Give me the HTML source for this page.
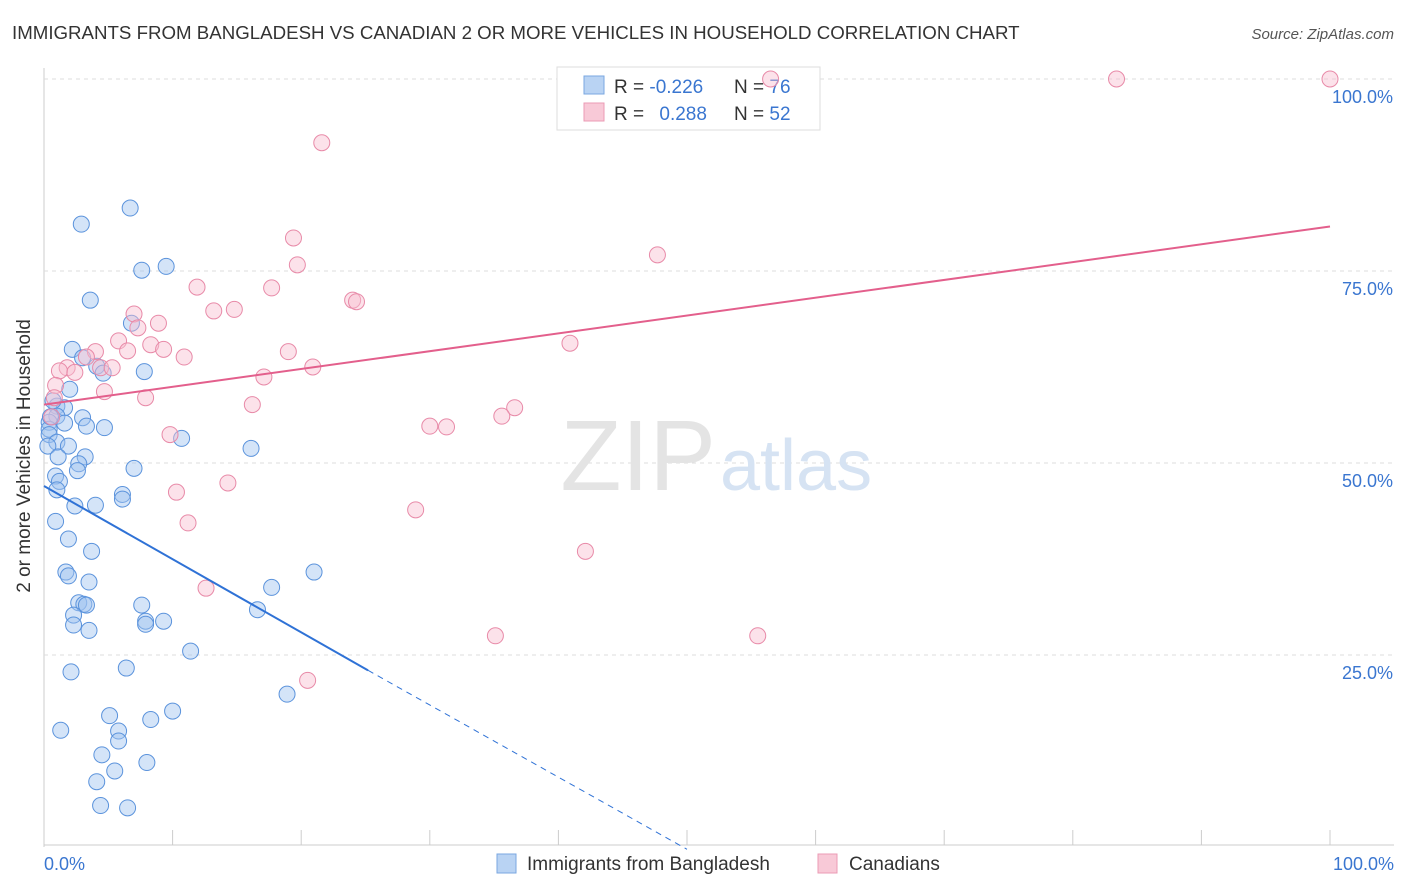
<!DOCTYPE html>
<html><head><meta charset="utf-8">
<style>
body{margin:0;background:#fff;font-family:"Liberation Sans",sans-serif;}
#wrap{position:relative;width:1406px;height:892px;overflow:hidden;}
svg text{font-family:"Liberation Sans",sans-serif;}
</style></head>
<body>
<div id="wrap">
<svg id="chart" width="1406" height="892">
<text x="12" y="39" font-size="18.7" fill="#333">IMMIGRANTS FROM BANGLADESH VS CANADIAN 2 OR MORE VEHICLES IN HOUSEHOLD CORRELATION CHART</text>
<text x="1394" y="39" font-size="15" fill="#555" text-anchor="end" font-style="italic">Source: ZipAtlas.com</text>
<g id="grid"></g>
<text x="716" y="490" font-size="100" fill="#e4e4e4" text-anchor="end" font-family="Liberation Serif">ZIP</text>
<text x="720" y="490" font-size="72" fill="#d6e3f3">atlas</text>
<text x="30" y="456" font-size="19" fill="#333" text-anchor="middle" transform="rotate(-90 30 456)">2 or more Vehicles in Household</text>
<g>
<rect x="557" y="67" width="263" height="63" fill="#fff" stroke="#ddd"/>
<rect x="584" y="76" width="20" height="18" fill="#b9d3f3" stroke="#7aa7e0"/>
<rect x="584" y="103" width="20" height="18" fill="#f8c9d7" stroke="#eb9bb4"/>
<text x="614" y="93" font-size="19" fill="#333">R = <tspan fill="#3a76d0">-0.226</tspan></text>
<text x="734" y="93" font-size="19" fill="#333">N = <tspan fill="#3a76d0">76</tspan></text>
<text x="614" y="120" font-size="19" fill="#333">R = <tspan fill="#3a76d0" dx="10">0.288</tspan></text>
<text x="734" y="120" font-size="19" fill="#333">N = <tspan fill="#3a76d0">52</tspan></text>
</g>
<g id="points"></g>
<g id="lines"></g>
<text x="44" y="870" font-size="18" fill="#3a76d0">0.0%</text>
<text x="1394" y="870" font-size="18" fill="#3a76d0" text-anchor="end">100.0%</text>
<g>
<rect x="497" y="854" width="19" height="19" fill="#b9d3f3" stroke="#7aa7e0"/>
<text x="527" y="870" font-size="19" fill="#333">Immigrants from Bangladesh</text>
<rect x="818" y="854" width="19" height="19" fill="#f8c9d7" stroke="#eb9bb4"/>
<text x="849" y="870" font-size="19" fill="#333">Canadians</text>
</g>
</svg>
</div>
<script>
const yTickValues=[25,50,75,100];
const yTickLabels=["25.0%","50.0%","75.0%","100.0%"];
const blueX=[6.7,2.9,7.6,9.5,3.6,6.8,2.2,3.0,4.1,4.6,7.8,2.0,1.0,1.6,1.0,3.0,1.6,0.4,0.4,3.3,4.7,0.4,1.0,1.9,0.3,1.1,3.2,2.7,2.6,7.0,0.9,1.2,1.0,6.1,6.1,4.0,2.4,0.9,1.9,3.7,10.7,16.1,1.7,1.9,3.5,21.0,17.7,2.7,3.1,3.3,2.3,7.6,16.6,7.9,7.9,9.3,2.3,3.5,11.4,2.1,6.4,18.9,10.0,5.1,8.3,1.3,5.8,5.8,4.5,8.0,5.5,4.1,4.4,6.5,0.7,0.5];
const blueY=[83.2,81.1,75.1,75.6,71.2,68.2,64.8,63.7,62.6,61.7,61.9,59.6,57.4,57.2,56.1,55.9,55.2,55.3,54.4,54.8,54.6,53.7,52.7,52.2,52.2,50.8,50.8,49.9,49.0,49.3,48.3,47.6,46.5,45.9,45.3,44.5,44.4,42.4,40.1,38.5,53.2,51.9,35.8,35.3,34.5,35.8,33.8,31.8,31.6,31.5,30.2,31.5,30.9,29.4,29.0,29.4,28.9,28.2,25.5,22.8,23.3,19.9,17.7,17.1,16.6,15.2,15.1,13.8,12.0,11.0,9.9,8.5,5.4,5.1,58.1,56.0];
const pinkX=[56.5,83.4,100,21.6,19.4,47.7,19.7,11.9,17.7,24.0,24.3,13.2,14.8,7.0,8.9,7.3,40.9,5.8,8.3,9.3,6.5,4.0,10.9,19.0,3.3,1.8,1.2,4.4,5.3,20.9,17.1,2.4,4.7,7.9,0.9,0.8,16.2,36.6,35.6,30.0,31.3,9.8,14.3,10.3,11.2,28.9,42.1,12.6,35.1,55.5,20.5,0.6];
const pinkY=[100,100,100,91.7,79.3,77.1,75.8,72.9,72.8,71.2,71.0,69.8,70.0,69.4,68.2,67.6,65.6,65.9,65.4,64.8,64.6,64.5,63.8,64.5,63.8,62.4,62.0,62.4,62.4,62.5,61.2,61.8,59.3,58.5,60.1,58.5,57.6,57.2,56.1,54.8,54.7,53.7,47.4,46.2,42.2,43.9,38.5,33.7,27.5,27.5,21.7,56.0];
const blueTrend=[[0,47.0],[25.2,23.0],[50,-0.3]];
const pinkTrend=[[0,57.6],[100,80.8]];
const X0=44,X1=1330,Y0=847,Y100=79;
const xs=v=>X0+(X1-X0)*v/100;
const ys=v=>Y0-(Y0-Y100)*v/100;
const NS="http://www.w3.org/2000/svg";
function mk(tag,attrs,parent){const e=document.createElementNS(NS,tag);for(const k in attrs)e.setAttribute(k,attrs[k]);parent.appendChild(e);return e;}
const grid=document.getElementById('grid');
const ax=mk('line',{x1:44,y1:68,x2:44,y2:847,stroke:'#ccc'},grid);


const bx=mk('line',{x1:44,y1:845,x2:1394,y2:845,stroke:'#ccc'},grid);


for(let i=0;i<=10;i++){const xt=mk('line',{x1:44+i*128.6,y1:830,x2:44+i*128.6,y2:845,stroke:'#ccc'},grid);

}
yTickValues.forEach((v,i)=>{const g=mk('line',{x1:44,y1:ys(v),x2:1394,y2:ys(v),stroke:'#ddd','stroke-dasharray':'4,4'},grid);


const t=mk('text',{x:1393,y:ys(v)+24,'font-size':18,fill:'#3a76d0','text-anchor':'end'},grid);t.textContent=yTickLabels[i];

});
const pts=document.getElementById('points');
blueX.forEach((x,i)=>{const c=mk('circle',{cx:xs(x),cy:ys(blueY[i]),r:8,fill:'rgba(160,196,240,0.45)',stroke:'#5b93dc','stroke-width':1},pts);

});
pinkX.forEach((x,i)=>{const c=mk('circle',{cx:xs(x),cy:ys(pinkY[i]),r:8,fill:'rgba(248,190,208,0.45)',stroke:'#e88aa8','stroke-width':1},pts);

});
const ln=document.getElementById('lines');
const b1=mk('line',{x1:xs(blueTrend[0][0]),y1:ys(blueTrend[0][1]),x2:xs(blueTrend[1][0]),y2:ys(blueTrend[1][1]),stroke:'#2f72d6','stroke-width':2},ln);


const b2=mk('line',{x1:xs(blueTrend[1][0]),y1:ys(blueTrend[1][1]),x2:xs(blueTrend[2][0]),y2:ys(blueTrend[2][1]),stroke:'#2f72d6','stroke-width':1,'stroke-dasharray':'6,5'},ln);


const p1=mk('line',{x1:xs(pinkTrend[0][0]),y1:ys(pinkTrend[0][1]),x2:xs(pinkTrend[1][0]),y2:ys(pinkTrend[1][1]),stroke:'#e35f8c','stroke-width':2},ln);


</script>
</body></html>
